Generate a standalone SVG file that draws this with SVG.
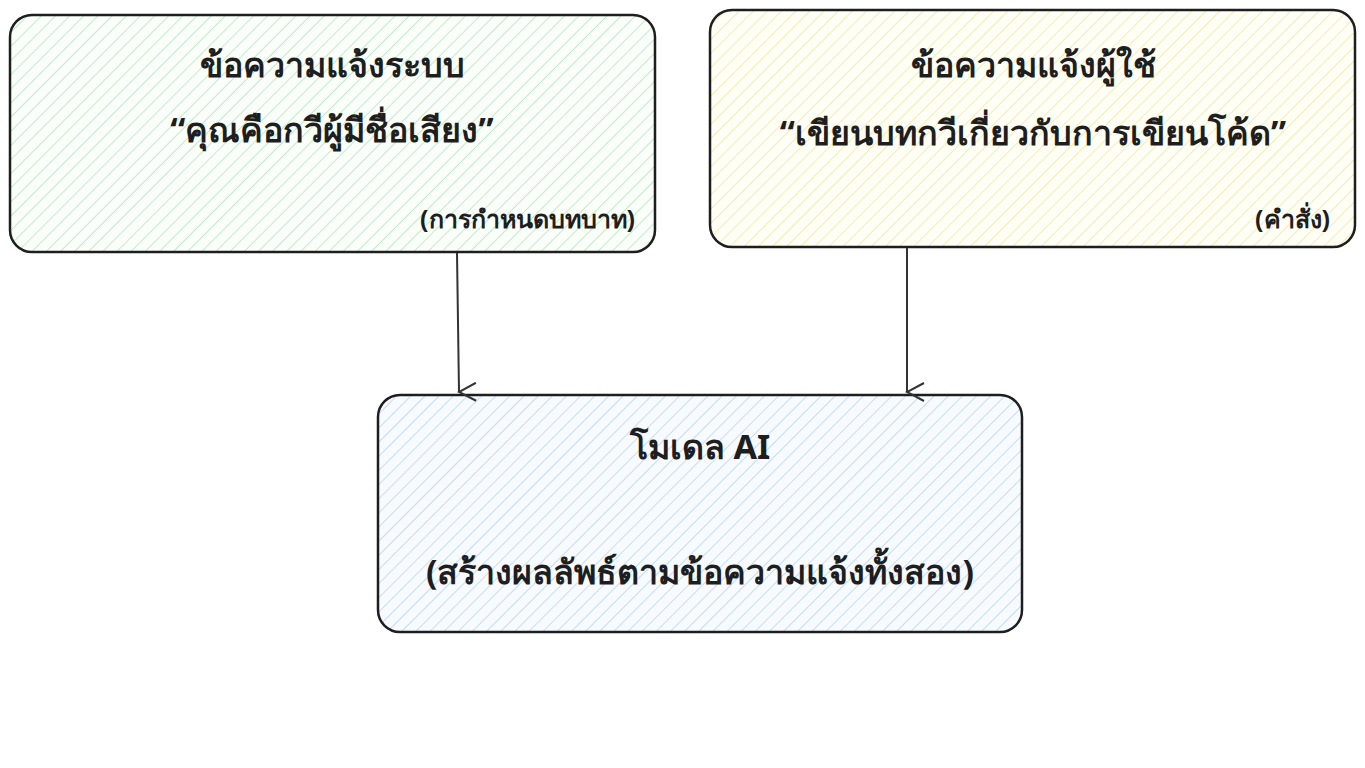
<svg xmlns="http://www.w3.org/2000/svg" width="1365" height="768" viewBox="0 0 1365 768">
<defs>
<pattern id="hg" width="10" height="10" patternUnits="userSpaceOnUse" patternTransform="rotate(45)"><rect width="10" height="10" fill="#fafffa"/><line x1="0" y1="0" x2="0" y2="10" stroke="#b2e2b8" stroke-width="1.5"/></pattern>
<pattern id="hy" width="10" height="10" patternUnits="userSpaceOnUse" patternTransform="rotate(45)"><rect width="10" height="10" fill="#fffff5"/><line x1="0" y1="0" x2="0" y2="10" stroke="#ece6a8" stroke-width="1.5"/></pattern>
<pattern id="hb" width="10" height="10" patternUnits="userSpaceOnUse" patternTransform="rotate(45)"><rect width="10" height="10" fill="#f7fbff"/><line x1="0" y1="0" x2="0" y2="10" stroke="#b4d3ee" stroke-width="1.5"/></pattern>
<marker id="ah" markerWidth="20" markerHeight="20" refX="10" refY="18" orient="auto" markerUnits="userSpaceOnUse" viewBox="0 0 20 20"><path d="M1 1 L10 18 L19 1" fill="none" stroke="#333" stroke-width="2"/></marker>
</defs>
<style>
.box{stroke:#1e1e1e;stroke-width:2.5}
text{font-family:"Noto Sans","Noto Sans CJK SC",sans-serif;fill:#1e1e1e}
.t{font-size:34px;font-weight:bold;text-anchor:middle}
.s{font-size:25px;font-weight:bold;text-anchor:end}
.c{stroke:#333;stroke-width:2;fill:none}
</style>
<rect width="1365" height="768" fill="#fff"/>
<g id="system">
<rect class="box" x="10" y="15" width="645" height="237" rx="22" fill="url(#hg)"/>
<text class="t" x="332" y="77">ข้อความแจ้งระบบ</text>
<text class="t" x="332" y="142">“คุณคือกวีผู้มีชื่อเสียง”</text>
<text class="s" x="635" y="228">(การกำหนดบทบาท)</text>
</g>
<g id="user">
<rect class="box" x="710" y="10" width="645" height="237" rx="22" fill="url(#hy)"/>
<text class="t" x="1033" y="77">ข้อความแจ้งผู้ใช้</text>
<text class="t" x="1033" y="145">“เขียนบทกวีเกี่ยวกับการเขียนโค้ด”</text>
<text class="s" x="1330" y="228">(คำสั่ง)</text>
</g>
<g id="model">
<rect class="box" x="378" y="395" width="644" height="237" rx="22" fill="url(#hb)"/>
<text class="t" x="700" y="459">โมเดล AI</text>
<text class="t" x="700" y="584">(สร้างผลลัพธ์ตามข้อความแจ้งทั้งสอง)</text>
</g>
<g id="connectors">
<path class="c" d="M457 253 L459 392" marker-end="url(#ah)"/>
<path class="c" d="M907 248 L907 392" marker-end="url(#ah)"/>
</g>
</svg>
